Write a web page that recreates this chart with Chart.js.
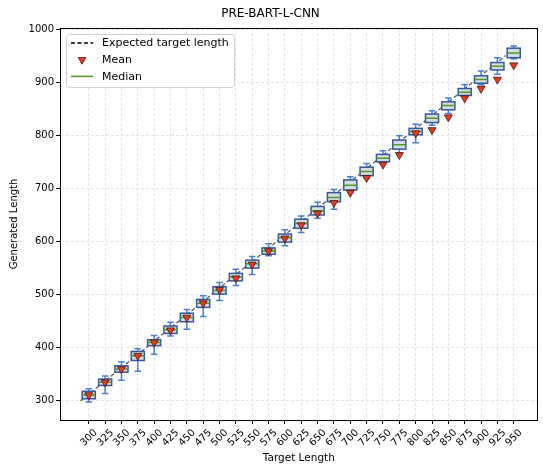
<!DOCTYPE html>
<html>
<head>
<meta charset="utf-8">
<script src="https://cdn.jsdelivr.net/npm/chart.js@4.4.1/dist/chart.umd.min.js"></script>
<style>
  html, body { margin: 0; padding: 0; background: #fff; }
  #wrap { width: 543px; height: 466px; }
</style>
</head>
<body>
<div id="wrap"><canvas id="chart"></canvas></div>
<script>
// Target lengths (x categories)
const targets = [300, 325, 350, 375, 400, 425, 450, 475, 500, 525, 550, 575, 600, 625,
  650, 675, 700, 725, 750, 775, 800, 825, 850, 875, 900, 925, 950];

// Box plot stats of generated length
const whiskerLow  = [298, 314, 339, 356, 388, 422, 435, 459, 489, 517, 538, 573, 592, 617,
  644, 661, 693, 719, 747, 767, 786, 819, 841, 873, 895, 915, 944];
const q1          = [304, 329, 354, 376, 404, 427, 449, 476, 501, 526, 550, 576, 599, 625,
  650, 675, 697, 724, 750, 774, 801, 824, 848, 875, 898, 923, 946];
const medians     = [311, 335, 360, 385, 410, 434, 457, 484, 508, 533, 558, 582, 607, 634,
  658, 683, 706, 732, 757, 782, 807, 832, 856, 881, 905, 930, 955];
const q3          = [318, 341, 366, 393, 415, 441, 465, 491, 515, 540, 565, 588, 614, 642,
  666, 692, 716, 740, 764, 791, 813, 840, 863, 888, 912, 937, 964];
const whiskerHigh = [323, 347, 373, 398, 423, 448, 472, 498, 523, 548, 572, 596, 622, 648,
  674, 698, 722, 747, 771, 799, 821, 846, 870, 895, 921, 946, 968];
const means       = [311, 335, 360, 385, 410, 433, 457, 484, 509, 531, 557, 582, 606, 631,
  653, 673, 692, 720, 745, 763, 804, 810, 834, 870, 888, 905, 932];

const yTicks = [300, 400, 500, 600, 700, 800, 900, 1000];

const FONT = 'DejaVu Sans';
const BOX_HALF = 0.4;   // in category units
const CAP_HALF = 0.2;
const BOX_FILL = '#d5dce4';
const BOX_EDGE = '#34589a';
const WHISKER = '#4a7fcf';
const MEDIAN = '#4c9a2a';
const MEAN_FILL = '#e23b26';
const MEAN_EDGE = '#4a120a';

// boxes + whiskers, drawn right after the dashed line so they cover it
const boxPlugin = {
  id: 'boxes',
  afterDatasetDraw(chart, args) {
    if (args.index !== 0) return;
    const { ctx, scales: { x, y } } = chart;
    ctx.save();
    targets.forEach((t, i) => {
      const cx = x.getPixelForValue(i);
      const bl = x.getPixelForValue(i - BOX_HALF), br = x.getPixelForValue(i + BOX_HALF);
      const cl = x.getPixelForValue(i - CAP_HALF), cr = x.getPixelForValue(i + CAP_HALF);
      const yLo = y.getPixelForValue(whiskerLow[i]), yHi = y.getPixelForValue(whiskerHigh[i]);
      const yQ1 = y.getPixelForValue(q1[i]), yQ3 = y.getPixelForValue(q3[i]);
      ctx.setLineDash([]);
      ctx.strokeStyle = WHISKER;
      ctx.lineWidth = 1.5;
      ctx.beginPath();
      ctx.moveTo(cx, yQ1); ctx.lineTo(cx, yLo);
      ctx.moveTo(cx, yQ3); ctx.lineTo(cx, yHi);
      ctx.moveTo(cl, yLo); ctx.lineTo(cr, yLo);
      ctx.moveTo(cl, yHi); ctx.lineTo(cr, yHi);
      ctx.stroke();
      ctx.fillStyle = BOX_FILL;
      ctx.fillRect(bl, yQ3, br - bl, yQ1 - yQ3);
      ctx.strokeStyle = BOX_EDGE;
      ctx.strokeRect(bl, yQ3, br - bl, yQ1 - yQ3);
    });
    ctx.restore();
  }
};

// frame on all four sides + matplotlib-like legend box in the upper left
const framePlugin = {
  id: 'frame',
  afterDraw(chart) {
    const { ctx, chartArea: a } = chart;
    ctx.save();
    ctx.strokeStyle = '#000';
    ctx.lineWidth = 1;
    ctx.strokeRect(Math.round(a.left) + 0.5, Math.round(a.top) + 0.5,
      Math.round(a.right - a.left) - 1, Math.round(a.bottom - a.top));

    const left = a.left + 6, top = a.top + 6, w = 168, h = 53;
    ctx.beginPath();
    ctx.roundRect(left + 0.5, top + 0.5, w, h, 3);
    ctx.fillStyle = 'rgba(255,255,255,0.85)';
    ctx.fill();
    ctx.strokeStyle = '#d0d0d0';
    ctx.stroke();

    ctx.font = '11px "' + FONT + '"';
    ctx.textBaseline = 'middle';
    chart.data.datasets.forEach((ds, k) => {
      const ry = top + 9 + k * 16.7;
      const hx = left + 16;
      if (ds.pointStyle === 'triangle') {
        const r = 4.5;
        ctx.beginPath();
        ctx.moveTo(hx - r * 0.866, ry - r * 0.5);
        ctx.lineTo(hx + r * 0.866, ry - r * 0.5);
        ctx.lineTo(hx, ry + r);
        ctx.closePath();
        ctx.fillStyle = ds.backgroundColor;
        ctx.fill();
        ctx.lineWidth = ds.borderWidth;
        ctx.strokeStyle = ds.borderColor;
        ctx.stroke();
      } else {
        ctx.beginPath();
        ctx.setLineDash(ds.borderDash || []);
        ctx.lineWidth = ds.borderWidth;
        ctx.strokeStyle = ds.legendColor || ds.borderColor;
        ctx.moveTo(left + 5, ry);
        ctx.lineTo(left + 27, ry);
        ctx.stroke();
        ctx.setLineDash([]);
      }
      ctx.fillStyle = '#000';
      ctx.fillText(ds.label, left + 36, ry + 0.5);
    });
    ctx.restore();
  }
};

new Chart(document.getElementById('chart'), {
  type: 'scatter',
  data: {
    datasets: [{
      label: 'Expected target length',
      data: targets.map((t, i) => ({ x: i - 0.5, y: t })),
      showLine: true,
      pointRadius: 0,
      borderColor: 'rgba(0,0,0,0.65)',
      legendColor: '#000',
      borderDash: [4, 2.5],
      borderWidth: 1.3,
      order: 3
    }, {
      label: 'Mean',
      data: means.map((m, i) => ({ x: i, y: m })),
      pointStyle: 'triangle',
      rotation: 180,
      pointRadius: 4.6,
      backgroundColor: MEAN_FILL,
      borderColor: MEAN_EDGE,
      borderWidth: 0.8,
      order: 1
    }, {
      label: 'Median',
      data: medians.map((m, i) => ({ x: i, y: m })),
      pointStyle: 'line',
      pointRadius: (c) => {
        const x = c.chart.scales.x;
        return Math.abs(x.getPixelForValue(BOX_HALF) - x.getPixelForValue(0));
      },
      borderColor: MEDIAN,
      borderWidth: 1.5,
      order: 2
    }]
  },
  options: {
    responsive: true,
    maintainAspectRatio: false,
    animation: false,
    events: [],
    layout: { padding: { left: 0, right: 2, top: 0, bottom: 0 } },
    plugins: {
      legend: { display: false },
      tooltip: { enabled: false },
      title: {
        display: true,
        text: 'PRE-BART-L-CNN',
        color: '#000',
        font: { family: FONT, size: 12, weight: 'normal' },
        padding: { top: 7, bottom: 6.6 }
      }
    },
    scales: {
      x: {
        type: 'linear',
        min: -1.76,
        max: 27.46,
        afterBuildTicks: (s) => { s.ticks = targets.map((t, i) => ({ value: i })); },
        afterFit: (s) => { s.height = 46; },
        ticks: {
          color: '#000',
          font: { family: FONT, size: 10 },
          minRotation: 45,
          maxRotation: 45,
          autoSkip: false,
          labelOffset: 7,
          padding: 3,
          callback: (v) => targets[v]
        },
        grid: { color: '#e4e4e4', tickColor: '#000', tickLength: 4 },
        border: { color: '#000', dash: [3, 2] },
        title: {
          display: true,
          text: 'Target Length',
          color: '#000',
          font: { family: FONT, size: 10.5 },
          padding: { top: 0, bottom: 1 }
        }
      },
      y: {
        min: 264,
        max: 1002,
        afterBuildTicks: (s) => { s.ticks = yTicks.map((v) => ({ value: v })); },
        afterFit: (s) => { s.width = 60; },
        ticks: {
          color: '#000',
          font: { family: FONT, size: 10 },
          padding: 2,
          callback: (v) => String(v)
        },
        grid: { color: '#e4e4e4', tickColor: '#000', tickLength: 4 },
        border: { color: '#000', dash: [3, 2] },
        title: {
          display: true,
          text: 'Generated Length',
          color: '#000',
          font: { family: FONT, size: 10 },
          padding: { top: 8, bottom: 0 }
        }
      }
    }
  },
  plugins: [boxPlugin, framePlugin]
});
</script>
</body>
</html>
